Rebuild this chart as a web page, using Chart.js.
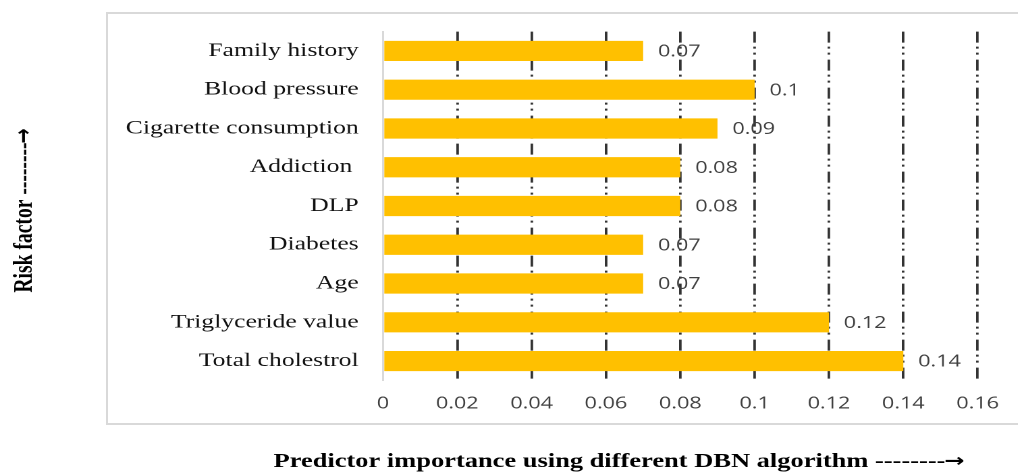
<!DOCTYPE html>
<html>
<head>
<meta charset="utf-8">
<script src="https://cdn.jsdelivr.net/npm/chart.js@4/dist/chart.umd.min.js"></script>
<style>
  html, body { margin: 0; padding: 0; background: #fff; overflow: hidden; }
  body { width: 1018px; height: 473px; position: relative; }
  #frame {
    position: absolute; left: 106px; top: 12px;
    width: 1000px; height: 409px;
    border: 2px solid #d9d9d9; box-sizing: content-box;
  }
  /* the chart is laid out narrow and widened horizontally */
  #wrap {
    position: absolute; left: 0; top: 0;
    width: 754px; height: 473px;
    transform: scaleX(1.35); transform-origin: 0 0;
  }
</style>
</head>
<body>
<div id="frame"></div>
<div id="wrap"><canvas id="c" width="754" height="473"></canvas></div>
<script>
const categories = [
  'Family history',
  'Blood pressure',
  'Cigarette consumption',
  'Addiction ',
  'DLP',
  'Diabetes',
  'Age',
  'Triglyceride value',
  'Total cholestrol'
];
const importance = [0.07, 0.1, 0.09, 0.08, 0.08, 0.07, 0.07, 0.12, 0.14];
const xTickLabels = ['0', '0.02', '0.04', '0.06', '0.08', '0.1', '0.12', '0.14', '0.16'];
const xTitle = 'Predictor importance using different DBN algorithm --------';
const yTitle = 'Risk factor --------';
const arrowGlyph = '\u2192';

const serif = '"Liberation Serif", "Times New Roman", serif';
const sans = '"Open Sans", "Noto Sans", sans-serif';
const titleFont = 'bold 19.6px ' + serif;
const arrowFont = 'bold 18px "DejaVu Sans", sans-serif';

// value printed just past the end of each bar
const barValueLabels = {
  id: 'barValueLabels',
  afterDatasetsDraw(chart) {
    const ctx = chart.ctx;
    const meta = chart.getDatasetMeta(0);
    ctx.save();
    ctx.font = '16px ' + sans;
    ctx.fillStyle = '#404040';
    ctx.textAlign = 'left';
    ctx.textBaseline = 'middle';
    meta.data.forEach((bar, i) => {
      ctx.fillText(String(importance[i]), bar.x + 11, bar.y + 1);
    });
    ctx.restore();
  }
};

// draws a caption (text followed by an arrow) centred on a point
function drawCaption(ctx, text, cx, cy, angle) {
  ctx.save();
  ctx.translate(cx, cy);
  ctx.rotate(angle);
  ctx.fillStyle = '#000';
  ctx.textBaseline = 'middle';
  ctx.textAlign = 'left';
  ctx.font = titleFont;
  const w1 = ctx.measureText(text).width;
  ctx.font = arrowFont;
  const w2 = ctx.measureText(arrowGlyph).width;
  const x0 = -(w1 + w2) / 2;
  ctx.font = titleFont;
  ctx.fillText(text, x0, 0);
  ctx.font = arrowFont;
  ctx.fillText(arrowGlyph, x0 + w1 - 1, 0);
  ctx.restore();
}

const axisCaptions = {
  id: 'axisCaptions',
  afterDraw(chart) {
    const ctx = chart.ctx;
    const area = chart.chartArea;
    drawCaption(ctx, xTitle, 459, 462, 0);
    drawCaption(ctx, yTitle, 18.5, (area.top + area.bottom) / 2 + 4, -Math.PI / 2);
  }
};

new Chart(document.getElementById('c'), {
  type: 'bar',
  data: {
    labels: categories,
    datasets: [{
      data: importance,
      backgroundColor: '#FFC000',
      borderWidth: 0,
      categoryPercentage: 1,
      barPercentage: 0.52
    }]
  },
  options: {
    indexAxis: 'y',
    responsive: false,
    devicePixelRatio: 2,
    animation: false,
    layout: { padding: { left: 0, right: 29.6, top: 31.6, bottom: 0 } },
    plugins: {
      legend: { display: false },
      tooltip: { enabled: false },
      title: { display: false }
    },
    scales: {
      x: {
        type: 'linear',
        min: 0,
        max: 0.16,
        afterFit(scale) { scale.height = 92.6; },
        ticks: {
          stepSize: 0.02,
          padding: 14,
          color: '#404040',
          font: { family: sans, size: 16 },
          callback: (v, i) => xTickLabels[i]
        },
        grid: {
          drawTicks: false,
          color: (c) => c.index === 0 ? 'rgba(0,0,0,0)' : '#333333',
          lineWidth: 1.9
        },
        border: { display: false, dash: [11, 4, 2, 4, 2, 5] }
      },
      y: {
        afterFit(scale) { scale.width = 283.7; },
        ticks: {
          padding: 18,
          color: '#111',
          font: { family: serif, size: 19 }
        },
        grid: { display: false, drawTicks: false },
        border: { display: true, color: '#d9d9d9', width: 1.5 }
      }
    }
  },
  plugins: [barValueLabels, axisCaptions]
});
</script>
</body>
</html>
